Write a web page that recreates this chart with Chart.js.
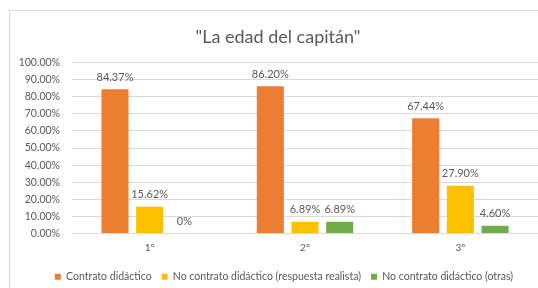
<!DOCTYPE html>
<html>
<head>
<meta charset="utf-8">
<script src="https://cdn.jsdelivr.net/npm/chart.js@4"></script>
<style>
    html, body { margin: 0; padding: 0; background: #fff; overflow: hidden; }
    #marco {
        position: absolute; left: 9px; top: 10px;
        width: 540px; height: 300px;
        border-left: 1px solid #d9d9d9; border-top: 1px solid #d9d9d9;
    }
    canvas { display: block; }
</style>
</head>
<body>
<div id="marco"><canvas id="graficoEdad" width="536" height="285"></canvas></div>
<script>
// Datos del gráfico
const categorias = ['1º', '2º', '3º'];
const contratoDidactico = [84.37, 86.20, 67.44];
const respuestaRealista = [15.62, 6.89, 27.90];
const otrasRespuestas = [0, 6.89, 4.60];
const nombresSeries = [
    'Contrato didáctico',
    'No contrato didáctico (respuesta realista)',
    'No contrato didáctico (otras)'
];
const colores = ['#ED7D31', '#FFC000', '#70AD47'];
const titulo = '"La edad del capitán"';
const fuente = "Lato, 'Open Sans', sans-serif";
const gris = '#595959';

// Etiquetas de valor encima de cada barra
const etiquetasValor = {
    id: 'etiquetasValor',
    afterDatasetsDraw(chart) {
        const ctx = chart.ctx;
        ctx.save();
        ctx.font = '11px ' + fuente;
        ctx.fillStyle = gris;
        ctx.textAlign = 'center';
        ctx.textBaseline = 'middle';
        chart.data.datasets.forEach((ds, i) => {
            const meta = chart.getDatasetMeta(i);
            meta.data.forEach((barra, j) => {
                const v = ds.data[j];
                const texto = v === 0 ? '0%' : v.toFixed(2) + '%';
                ctx.fillText(texto, barra.x, barra.y - 12);
            });
        });
        ctx.restore();
    }
};

// Pequeño ajuste horizontal del título y la leyenda (el original no está centrado igual)
const desplazarCajas = {
    id: 'desplazarCajas',
    afterLayout(chart) {
        chart.titleBlock.left += 4;
        chart.titleBlock.right += 4;
        chart.legend.left += 10;
        chart.legend.right += 10;
    }
};

new Chart(document.getElementById('graficoEdad'), {
    type: 'bar',
    data: {
        labels: categorias,
        datasets: [contratoDidactico, respuestaRealista, otrasRespuestas].map((serie, i) => ({
            label: nombresSeries[i],
            data: serie,
            backgroundColor: colores[i],
            categoryPercentage: 0.67,
            barPercentage: 0.78
        }))
    },
    options: {
        responsive: false,
        animation: false,
        devicePixelRatio: 1,
        layout: { padding: { left: 0, right: 8, top: 0, bottom: 4 } },
        plugins: {
            title: {
                display: true,
                text: titulo,
                color: gris,
                font: { family: fuente, size: 18, weight: 'normal' },
                padding: { top: 15, bottom: 15 }
            },
            legend: {
                position: 'bottom',
                labels: {
                    color: gris,
                    boxWidth: 6,
                    boxHeight: 6,
                    padding: 10,
                    font: { family: fuente, size: 10.5 }
                }
            },
            tooltip: { enabled: false }
        },
        scales: {
            x: {
                grid: { display: false, drawTicks: false },
                border: { color: '#d9d9d9' },
                ticks: {
                    maxRotation: 0,
                    color: gris,
                    font: { family: fuente, size: 10 },
                    padding: 8
                }
            },
            y: {
                min: 0,
                max: 100,
                afterFit: (scale) => { scale.width = 62; },
                grid: { color: '#d9d9d9', drawTicks: false },
                border: { display: false },
                ticks: {
                    stepSize: 10,
                    padding: 12,
                    color: gris,
                    font: { family: fuente, size: 10.5 },
                    callback: (v) => v.toFixed(2) + '%'
                }
            }
        }
    },
    plugins: [etiquetasValor, desplazarCajas]
});
</script>
</body>
</html>
